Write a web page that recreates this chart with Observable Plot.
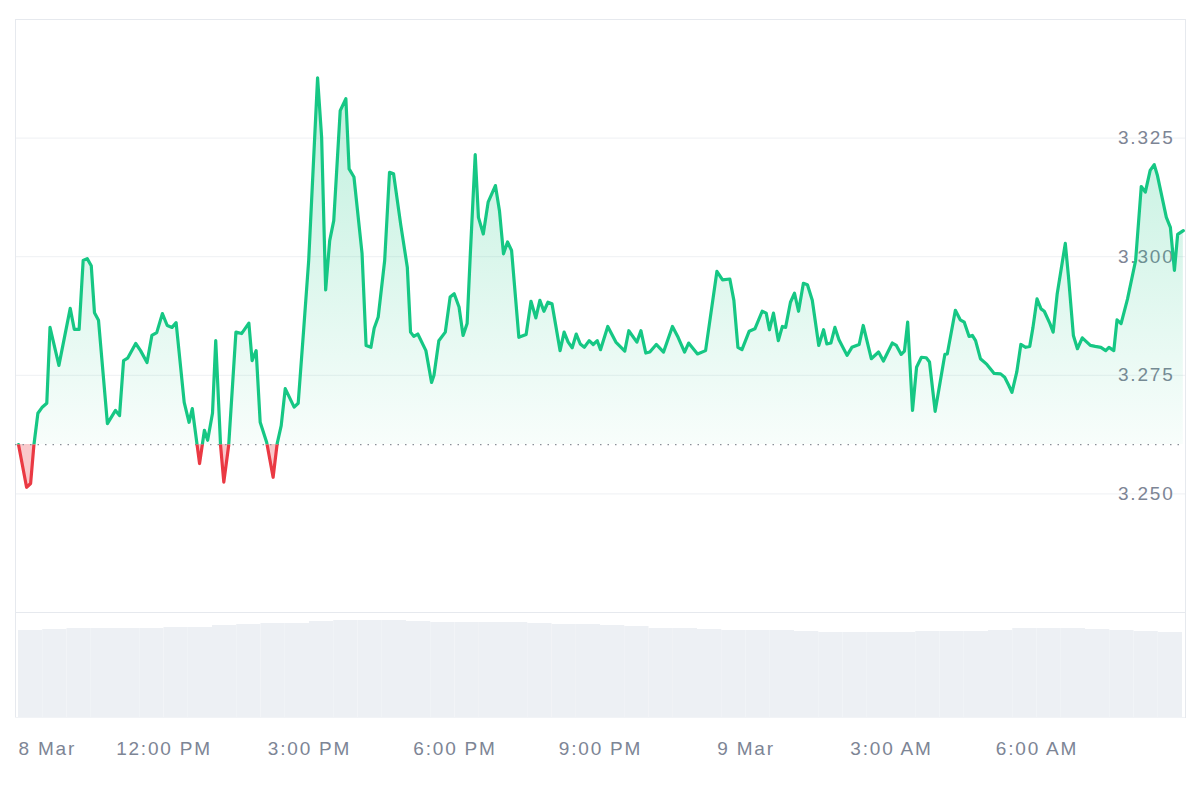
<!DOCTYPE html>
<html>
<head>
<meta charset="utf-8">
<script src="https://cdn.jsdelivr.net/npm/d3@7"></script>
<script src="https://cdn.jsdelivr.net/npm/@observablehq/plot@0.6"></script>
<style>
  html, body { margin: 0; padding: 0; background: #ffffff; }
  #wrap { width: 1200px; font-family: "Liberation Sans", Arial, sans-serif; }
  #wrap svg { display: block; }
</style>
</head>
<body>
<div id="wrap"></div>
<script>
// ---- Data ----
// minutes after 8 Mar 09:00
const minutes = [0,10,15,19,24,29,35,39,50,64,
69,75,80,85,90,94,99,110,120,125,
130,135,145,151,159,165,171,178,184,190,
195,205,211,215,224,230,234,240,244,250,
254,260,269,276,285,289,294,299,307,315,
320,325,330,341,346,353,359,370,375,380,
385,390,398,405,409,415,425,430,436,440,
445,453,459,464,473,481,485,489,494,504,
511,514,520,528,534,539,545,550,555,559,
565,569,575,581,590,595,600,605,610,619,
628,634,640,645,650,655,660,670,675,680,
685,690,695,700,706,711,716,720,729,739,
750,755,765,770,776,781,789,798,809,816,
824,829,840,850,864,871,880,885,890,895,
904,911,920,925,929,934,940,945,949,955,
960,965,971,976,982,990,996,1000,1005,1010,
1015,1025,1031,1040,1045,1055,1064,1070,1081,1086,
1092,1096,1100,1106,1111,1117,1123,1127,1134,1146,
1149,1159,1165,1170,1176,1180,1184,1190,1198,1207,
1215,1220,1225,1229,1235,1240,1246,1251,1255,1260,
1265,1269,1276,1280,1285,1295,1299,1305,1310,1316,
1326,1332,1339,1345,1349,1355,1359,1364,1372,1382,
1389,1394,1400,1405,1409,1420,1425,1430,1434,1441];

const prices = [3.2604,3.2514,3.2522,3.2602,3.2670,3.2682,3.2691,3.2851,3.2771,3.2891,
3.2847,3.2847,3.2992,3.2996,3.2981,3.2882,3.2866,3.2648,3.2676,3.2665,
3.2781,3.2786,3.2817,3.2802,3.2777,3.2834,3.2840,3.2880,3.2855,3.2851,
3.2861,3.2693,3.2651,3.2680,3.2564,3.2634,3.2613,3.2670,3.2823,3.2602,
3.2525,3.2602,3.2841,3.2838,3.2860,3.2781,3.2802,3.2651,3.2609,3.2535,
3.2606,3.2644,3.2722,3.2683,3.2691,3.2851,3.2992,3.3377,3.3252,3.2930,
3.3034,3.3076,3.3308,3.3333,3.3185,3.3168,3.3007,3.2813,3.2809,3.2849,
3.2873,3.2992,3.3178,3.3175,3.3066,3.2978,3.2841,3.2832,3.2837,3.2802,
3.2735,3.2750,3.2823,3.2841,3.2915,3.2922,3.2894,3.2834,3.2859,3.3007,
3.3215,3.3083,3.3048,3.3115,3.3150,3.3097,3.3006,3.3031,3.3013,3.2830,
3.2836,3.2906,3.2871,3.2908,3.2885,3.2904,3.2901,3.2802,3.2841,3.2820,
3.2808,3.2837,3.2816,3.2809,3.2823,3.2815,3.2823,3.2804,3.2853,3.2820,
3.2801,3.2844,3.2820,3.2844,3.2797,3.2799,3.2815,3.2799,3.2853,3.2830,
3.2799,3.2818,3.2795,3.2802,3.2969,3.2951,3.2953,3.2908,3.2809,3.2804,
3.2843,3.2848,3.2885,3.2881,3.2846,3.2881,3.2823,3.2853,3.2851,3.2904,
3.2923,3.2885,3.2944,3.2941,3.2908,3.2813,3.2846,3.2816,3.2818,3.2851,
3.2825,3.2792,3.2809,3.2815,3.2855,3.2785,3.2799,3.2780,3.2818,3.2813,
3.2794,3.2801,3.2862,3.2676,3.2767,3.2788,3.2787,3.2778,3.2674,3.2794,
3.2795,3.2887,3.2867,3.2862,3.2832,3.2834,3.2823,3.2785,3.2773,3.2754,
3.2753,3.2746,3.2729,3.2714,3.2757,3.2815,3.2809,3.2811,3.2851,3.2911,
3.2890,3.2885,3.2859,3.2841,3.2922,3.3028,3.2957,3.2834,3.2806,3.2829,
3.2813,3.2811,3.2809,3.2802,3.2809,3.2802,3.2867,3.2859,3.2911,3.2992,
3.3148,3.3136,3.3182,3.3194,3.3171,3.3083,3.3062,3.2971,3.3047,3.3055];

// volume, one bar per 30 minutes (relative units)
const volumeStarts = [0,30,60,90,120,150,180,210,240,270,300,330,360,390,420,450,480,510,540,570,600,630,660,690,
720,750,780,810,840,870,900,930,960,990,1020,1050,1080,1110,1140,1170,1200,1230,1260,1290,1320,1350,1380,1410];
const volumes = [87,88,89,89,89,89,90,90,92,93,94,94,96,97,97,97,96,95,95,95,95,94,93,93,
92,91,89,89,88,87,87,87,86,85,85,85,85,86,86,86,87,89,89,89,88,87,86,85];

const yTickValues = [3.250, 3.275, 3.300, 3.325];
const gridValues = [3.225, 3.250, 3.275, 3.300, 3.325];
const xTickMinutes = [0, 180, 360, 540, 720, 900, 1080, 1260];
const xTickLabels = ["8 Mar", "12:00 PM", "3:00 PM", "6:00 PM", "9:00 PM", "9 Mar", "3:00 AM", "6:00 AM"];

// ---- Build ----
const start = Date.UTC(2025, 2, 8, 9, 0);
const toDate = m => new Date(start + m * 60000);
const n = Math.min(minutes.length, prices.length);
const series = d3.range(n).map(i => ({t: toDate(minutes[i]), p: prices[i]}));
const base = prices[0];
const vol = volumeStarts.map((m, i) => ({t1: toDate(m), t2: toDate(m + 30), v: volumes[i]}));
const xTicks = xTickMinutes.map((m, i) => ({t: toDate(m), label: xTickLabels[i]}));
const xDomain = [toDate(-3.7), toDate(1443.7)];

const GREEN = "#16c784", RED = "#ea3943", TXT = "#7d8595", GRID = "#eef0f3", FRAME = "#e6e9ee";
const FONT = "19px", LS = "1.8";

const priceChart = Plot.plot({
  width: 1200, height: 613,
  marginTop: 19, marginBottom: 1, marginLeft: 15, marginRight: 15,
  style: {fontFamily: '"Liberation Sans", Arial, sans-serif', background: "transparent", overflow: "visible"},
  x: {type: "utc", domain: xDomain, axis: null},
  y: {domain: [3.225, 3.35], axis: null},
  marks: [
    Plot.ruleY(gridValues, {stroke: GRID, strokeWidth: 1}),
    Plot.frame({stroke: FRAME}),
    Plot.text(yTickValues, {y: d => d, text: d => d.toFixed(3), frameAnchor: "right", textAnchor: "end",
      dx: -11, fill: TXT, fontSize: FONT}),
    Plot.areaY(series, {x: "t", y1: base, y2: "p", fill: "url(#gUp)", ariaDescription: "area-up"}),
    Plot.areaY(series, {x: "t", y1: base, y2: "p", fill: RED, fillOpacity: 0.28, ariaDescription: "area-down"}),
    Plot.ruleY([base], {stroke: "#8a8f98", strokeWidth: 1.2, strokeDasharray: "1.5,6"}),
    Plot.lineY(series, {x: "t", y: "p", stroke: GREEN, strokeWidth: 3.2, ariaDescription: "line-up"}),
    Plot.lineY(series, {x: "t", y: "p", stroke: RED, strokeWidth: 3.2, ariaDescription: "line-down"})
  ]
});

// clip paths split at the baseline (opening price)
(function () {
  const svg = d3.select(priceChart);
  const yS = priceChart.scale("y");
  const yb = yS.apply(base);
  const ytop = yS.apply(d3.max(prices));
  const defs = svg.insert("defs", ":first-child");
  const g = defs.append("linearGradient").attr("id", "gUp")
    .attr("gradientUnits", "userSpaceOnUse").attr("x1", 0).attr("x2", 0).attr("y1", ytop).attr("y2", yb);
  g.append("stop").attr("offset", "0%").attr("stop-color", GREEN).attr("stop-opacity", 0.28);
  g.append("stop").attr("offset", "100%").attr("stop-color", GREEN).attr("stop-opacity", 0.03);
  defs.append("clipPath").attr("id", "clipUp").append("rect")
    .attr("x", 0).attr("y", 0).attr("width", 1200).attr("height", yb);
  defs.append("clipPath").attr("id", "clipDown").append("rect")
    .attr("x", 0).attr("y", yb).attr("width", 1200).attr("height", 613 - yb);
  const pick = (desc, label, idx) => {
    let sel = svg.select(`g[aria-description="${desc}"]`);
    if (sel.empty()) sel = d3.select(svg.selectAll(`g[aria-label="${label}"]`).nodes()[idx]);
    return sel;
  };
  pick("area-up", "area", 0).attr("clip-path", "url(#clipUp)");
  pick("area-down", "area", 1).attr("clip-path", "url(#clipDown)");
  pick("line-up", "line", 0).attr("clip-path", "url(#clipUp)");
  pick("line-down", "line", 1).attr("clip-path", "url(#clipDown)");
  svg.selectAll("text").attr("letter-spacing", LS);
})();

const volumeChart = Plot.plot({
  width: 1200, height: 187,
  marginTop: 0, marginBottom: 83, marginLeft: 15, marginRight: 15,
  style: {fontFamily: '"Liberation Sans", Arial, sans-serif', background: "transparent", overflow: "visible"},
  x: {type: "utc", domain: xDomain, axis: null},
  y: {domain: [0, 104], axis: null},
  marks: [
    Plot.rectY(vol, {x1: "t1", x2: "t2", y: "v", fill: "#edf0f4"}),
    Plot.frame({stroke: FRAME, anchor: "left"}),
    Plot.frame({stroke: FRAME, anchor: "right"}),
    Plot.ruleY([0], {stroke: "#f1f3f6"}),
    Plot.text(xTicks.slice(0, 1), {x: "t", text: "label", frameAnchor: "bottom", dy: 31, textAnchor: "start",
      lineAnchor: "middle", fill: TXT, fontSize: FONT}),
    Plot.text(xTicks.slice(1), {x: "t", text: "label", frameAnchor: "bottom", dy: 31, textAnchor: "middle",
      lineAnchor: "middle", fill: TXT, fontSize: FONT})
  ]
});
d3.select(volumeChart).selectAll("text").attr("letter-spacing", LS);

const wrap = document.getElementById("wrap");
wrap.appendChild(priceChart);
wrap.appendChild(volumeChart);
</script>
</body>
</html>
